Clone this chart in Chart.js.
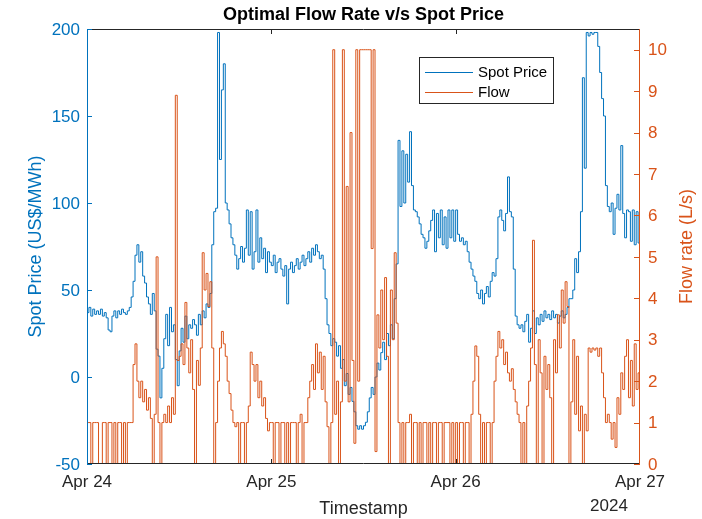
<!DOCTYPE html>
<html>
<head>
<meta charset="utf-8">
<script src="https://cdn.jsdelivr.net/npm/chart.js@4.4.1/dist/chart.umd.min.js"></script>
<style>
  html, body { margin: 0; padding: 0; background: #fff; }
  canvas { display: block; }
</style>
</head>
<body>
<canvas id="flowChart" width="702" height="519"></canvas>
<script>
// 15-minute samples from Apr 24 00:00 to Apr 27 00:00
const stepHours = 0.25;
const dayLabels = ['Apr 24', 'Apr 25', 'Apr 26', 'Apr 27'];
const dayHours = [0, 24, 48, 72];
const yearLabel = '2024';
const priceTicks = [-50, 0, 50, 100, 150, 200];
const flowTicks = [0, 1, 2, 3, 4, 5, 6, 7, 8, 9, 10];

const spotPrice = [
    37, 40, 35, 39, 36, 38, 36, 39, 35, 37, 34, 27,
    26, 35, 38, 34, 38, 36, 39, 37, 36, 38, 40, 46,
    55, 70, 76, 66, 72, 58, 54, 46, 42, 36, 48, 38,
    16, 12, -12, 5, 22, 36, 18, 40, 26, 30, 10, -5,
    15, 28, 20, 35, 22, 30, 28, 33, 30, 24, 36, 30,
    38, 34, 42, 40, 48, 76, 95, 97, 198, 125, 165, 180,
    100, 96, 88, 80, 76, 70, 62, 68, 75, 66, 74, 96,
    70, 95, 62, 72, 96, 66, 80, 68, 74, 60, 72, 66,
    64, 70, 60, 66, 68, 62, 58, 64, 42, 62, 66, 60,
    64, 68, 62, 66, 70, 64, 68, 72, 66, 74, 70, 76,
    72, 68, 70, 62, 45, 30, 25, 18, 22, 20, 12, 18,
    5, 10, -5, 2, -10, -6, -14, -20, -28, -30, -28, -30,
    -28, -26, -20, -12, -6, -10, 0, 8, 4, 14, 20, 10,
    25, 18, 30, 22, 45, 65, 136, 98, 130, 100, 128, 112,
    141, 110, 96, 95, 92, 88, 82, 80, 74, 78, 84, 90,
    96, 72, 94, 80, 96, 76, 92, 74, 96, 80, 96, 78,
    96, 82, 78, 80, 76, 78, 72, 66, 62, 58, 55, 48,
    45, 50, 42, 48, 52, 46, 55, 60, 58, 68, 92, 96,
    90, 84, 94, 115, 95, 92, 62, 35, 30, 28, 30, 26,
    32, 36, 20, 28, 38, 25, 34, 30, 36, 32, 38, 34,
    36, 33, 38, 34, 36, 31, 35, 38, 34, 36, 40, 45,
    45, 50, 68, 60, 72, 95, 172, 120, 198, 196, 198, 197,
    198, 198, 190, 175, 160, 150, 110, 98, 95, 100, 82, 97,
    105, 96, 133, 94, 80, 96, 95, 78, 96, 76, 95, 77, 95
];

const flowRate = [
    1, 1, 0, 1, 1, 1, 0, 0, 1, 1, 0, 1,
    1, 0, 1, 0, 1, 1, 0, 1, 0, 1, 1, 1,
    2.4, 2.9, 2.0, 1.6, 2.0, 1.5, 1.8, 1.3, 1.6, 1.1, 0, 1.2,
    5.0, 1.0, 0, 1.0, 1.2, 1.0, 1.4, 1.0, 1.6, 1.2, 8.9, 2.5,
    2.6, 2.9, 2.4, 3.9, 2.8, 2.2, 3.0, 1.8, 0, 2.5, 1.9, 2.8,
    5.1, 4.2, 4.6, 3.8, 4.4, 2.8, 0, 1.0, 2.0, 2.8, 3.2, 2.9,
    2.6, 2.0, 1.7, 1.3, 1.0, 0.9, 1.0, 0, 1.0, 1.0, 0, 1.0,
    1.4, 2.7, 2.4, 2.0, 2.4, 1.6, 2.0, 1.4, 1.6, 1.1, 0.8, 1.0,
    1, 0, 1, 1, 0, 1, 1, 0, 1, 0, 1, 1,
    1, 0, 1, 1.2, 0, 1, 1, 1.6, 2.0, 2.4, 1.8, 2.9,
    2.2, 2.7, 1.8, 2.6, 1.5, 0.9, 0, 1.0, 10, 1.2, 2.0, 0,
    1.5, 10, 2.0, 6.7, 1.5, 8.0, 2.5, 0.5, 10, 2, 10, 10,
    10, 10, 10, 10, 5.2, 10, 0.3, 3.6, 2.8, 4.2, 3.0, 4.5,
    2.6, 0, 4.2, 3.0, 5.1, 3.4, 1.0, 0, 1.0, 0, 1.0, 1.0,
    1.2, 0, 1, 1, 0, 1, 0, 1, 1, 0, 1, 0,
    1, 1, 0, 1, 1, 0, 1, 1, 1, 0, 1, 0,
    1, 0, 1, 1, 0, 1, 1, 0, 1.2, 2.0, 2.85, 2.6,
    1.2, 0, 1, 0, 1, 1, 0, 1, 2.0, 2.6, 3.2, 2.8,
    3.0, 2.4, 2.7, 2.2, 2.0, 2.3, 1.8, 1.5, 1.2, 1.0, 0, 1.0,
    0, 1.4, 2.0, 2.8, 5.4, 2.4, 0, 3.0, 2.2, 0, 2.6, 1.8,
    2.4, 1.6, 0, 3.0, 2.2, 3.6, 2.8, 4.2, 3.4, 4.4, 3.8, 0,
    1.5, 3.0, 1.2, 2.6, 0.8, 1.4, 0, 1.2, 0.8, 2.8, 2.7, 2.8,
    2.75, 2.8, 2.6, 2.8, 2.2, 1.6, 1.0, 1.2, 1.0, 0.6, 1.0, 0.4,
    1.6, 1.2, 2.2, 1.8, 2.6, 3.0, 1.6, 2.5, 1.4, 2.9, 1.8, 2.2, 1.9
];

const BLUE = '#0072BD';
const ORANGE = '#D95319';
const DARK = '#262626';
const FONT = '"Liberation Sans", Arial, sans-serif';

function toPoints(values) {
    return values.map((v, i) => ({ x: i * stepHours, y: v }));
}

// MATLAB-style box, inward ticks, labels and legend
const matlabAxes = {
    id: 'matlabAxes',
    afterDraw(chart) {
        const ctx = chart.ctx;
        const area = chart.chartArea;
        const xs = chart.scales.x;
        const yl = chart.scales.y;
        const yr = chart.scales.y1;
        const tick = 5;

        ctx.save();
        ctx.lineWidth = 1;

        // top and bottom edges
        ctx.strokeStyle = DARK;
        ctx.beginPath();
        ctx.moveTo(area.left, area.top + 0.5);
        ctx.lineTo(area.right, area.top + 0.5);
        ctx.moveTo(area.left, area.bottom - 0.5);
        ctx.lineTo(area.right, area.bottom - 0.5);
        dayHours.slice(1, -1).forEach(h => {
            const px = Math.round(xs.getPixelForValue(h)) + 0.5;
            ctx.moveTo(px, area.bottom);
            ctx.lineTo(px, area.bottom - tick);
            ctx.moveTo(px, area.top);
            ctx.lineTo(px, area.top + tick);
        });
        ctx.stroke();

        // left axis
        ctx.strokeStyle = BLUE;
        ctx.beginPath();
        ctx.moveTo(area.left + 0.5, area.top);
        ctx.lineTo(area.left + 0.5, area.bottom);
        priceTicks.forEach(v => {
            const py = Math.round(yl.getPixelForValue(v)) + 0.5;
            ctx.moveTo(area.left, py);
            ctx.lineTo(area.left + tick, py);
        });
        ctx.stroke();

        // right axis
        ctx.strokeStyle = ORANGE;
        ctx.beginPath();
        ctx.moveTo(area.right - 0.5, area.top);
        ctx.lineTo(area.right - 0.5, area.bottom);
        flowTicks.forEach(v => {
            const py = Math.round(yr.getPixelForValue(v)) + 0.5;
            ctx.moveTo(area.right, py);
            ctx.lineTo(area.right - tick - 1, py);
        });
        ctx.stroke();

        // tick labels
        ctx.font = '17px ' + FONT;
        ctx.textBaseline = 'middle';
        ctx.fillStyle = BLUE;
        ctx.textAlign = 'right';
        priceTicks.forEach(v => {
            ctx.fillText(String(v), area.left - 7, yl.getPixelForValue(v) + 1);
        });
        ctx.fillStyle = ORANGE;
        ctx.textAlign = 'left';
        flowTicks.forEach(v => {
            ctx.fillText(String(v), area.right + 8, yr.getPixelForValue(v) + 1);
        });
        ctx.fillStyle = DARK;
        ctx.textAlign = 'center';
        dayHours.forEach((h, i) => {
            ctx.fillText(dayLabels[i], xs.getPixelForValue(h), area.bottom + 18);
        });
        ctx.fillText(yearLabel, 609, area.bottom + 42);

        // axis titles
        ctx.font = '18px ' + FONT;
        ctx.fillText('Timestamp', (area.left + area.right) / 2, area.bottom + 45);

        ctx.save();
        ctx.translate(36, (area.top + area.bottom) / 2);
        ctx.rotate(-Math.PI / 2);
        ctx.fillStyle = BLUE;
        ctx.fillText('Spot Price (US$/MWh)', 0, 0);
        ctx.restore();

        ctx.save();
        ctx.translate(687, (area.top + area.bottom) / 2);
        ctx.rotate(-Math.PI / 2);
        ctx.fillStyle = ORANGE;
        ctx.fillText('Flow rate (L/s)', 0, 0);
        ctx.restore();

        // title
        ctx.font = 'bold 18px ' + FONT;
        ctx.fillStyle = '#000';
        ctx.fillText('Optimal Flow Rate v/s Spot Price', (area.left + area.right) / 2, 15);

        // legend
        const lx = 419, ly = 57, lw = 134, lh = 46;
        ctx.fillStyle = '#fff';
        ctx.fillRect(lx, ly, lw, lh);
        ctx.strokeStyle = DARK;
        ctx.strokeRect(lx + 0.5, ly + 0.5, lw, lh);
        const entries = [['Spot Price', BLUE, 72], ['Flow', ORANGE, 92]];
        ctx.font = '15px ' + FONT;
        ctx.textAlign = 'left';
        entries.forEach(([label, color, y]) => {
            ctx.strokeStyle = color;
            ctx.beginPath();
            ctx.moveTo(lx + 6, y + 0.5);
            ctx.lineTo(lx + 54, y + 0.5);
            ctx.stroke();
            ctx.fillStyle = '#000';
            ctx.fillText(label, lx + 59, y + 1);
        });

        ctx.restore();
    }
};

new Chart(document.getElementById('flowChart').getContext('2d'), {
    type: 'line',
    data: {
        datasets: [
            {
                label: 'Spot Price',
                data: toPoints(spotPrice),
                yAxisID: 'y',
                borderColor: BLUE,
                borderWidth: 1,
                pointRadius: 0,
                stepped: true,
                order: 2
            },
            {
                label: 'Flow',
                data: toPoints(flowRate),
                yAxisID: 'y1',
                borderColor: ORANGE,
                borderWidth: 1,
                pointRadius: 0,
                stepped: true,
                order: 1
            }
        ]
    },
    options: {
        responsive: false,
        animation: false,
        devicePixelRatio: 1,
        layout: {
            padding: { left: 87, right: 62, top: 29, bottom: 55 }
        },
        plugins: {
            legend: { display: false },
            title: { display: false },
            tooltip: { enabled: false }
        },
        scales: {
            x: { type: 'linear', min: 0, max: 72, display: false },
            y: { type: 'linear', min: -50, max: 200, display: false },
            y1: { type: 'linear', min: 0, max: 10.5, display: false, position: 'right' }
        }
    },
    plugins: [matlabAxes]
});
</script>
</body>
</html>
